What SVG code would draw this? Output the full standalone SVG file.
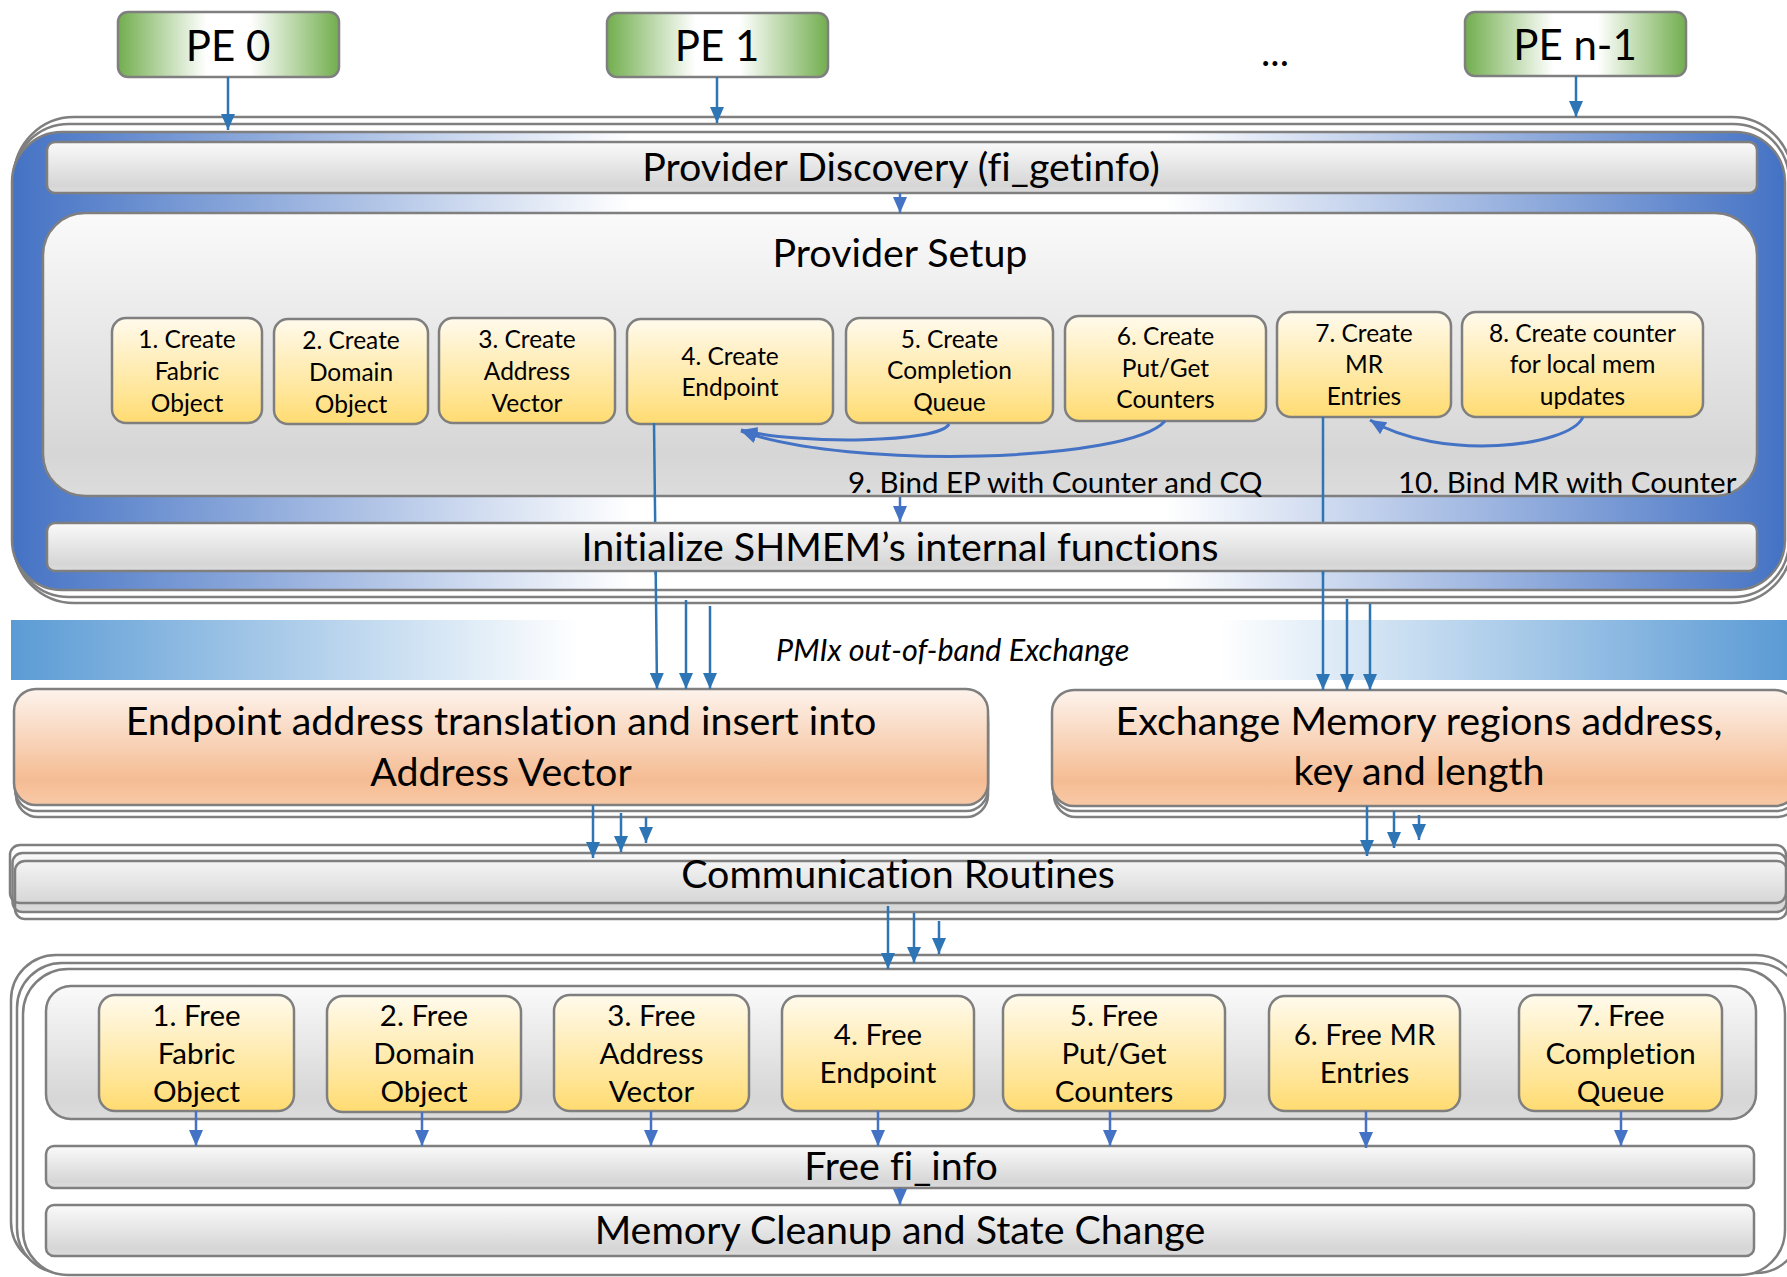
<svg xmlns="http://www.w3.org/2000/svg" width="1787" height="1277" viewBox="0 0 1787 1277">
  <defs>
    <linearGradient id="gPE" x1="0" y1="0" x2="1" y2="0">
      <stop offset="0" stop-color="#72AE4E"/>
      <stop offset="0.4" stop-color="#FFFFFF"/>
      <stop offset="0.6" stop-color="#FFFFFF"/>
      <stop offset="1" stop-color="#72AE4E"/>
    </linearGradient>
    <linearGradient id="gBlue" x1="0" y1="0" x2="1" y2="0">
      <stop offset="0" stop-color="#4472C4"/>
      <stop offset="0.35" stop-color="#FFFFFF"/>
      <stop offset="0.65" stop-color="#FFFFFF"/>
      <stop offset="1" stop-color="#4472C4"/>
    </linearGradient>
    <linearGradient id="gBand" x1="0" y1="0" x2="1" y2="0">
      <stop offset="0" stop-color="#5B9BD5"/>
      <stop offset="0.32" stop-color="#FFFFFF"/>
      <stop offset="0.68" stop-color="#FFFFFF"/>
      <stop offset="1" stop-color="#5B9BD5"/>
    </linearGradient>
    <linearGradient id="gGray" x1="0" y1="0" x2="0" y2="1">
      <stop offset="0" stop-color="#FAFAFA"/>
      <stop offset="0.85" stop-color="#D6D6D6"/>
      <stop offset="1" stop-color="#DCDCDC"/>
    </linearGradient>
    <linearGradient id="gYellow" x1="0" y1="0" x2="0" y2="1">
      <stop offset="0" stop-color="#FFFAEC"/>
      <stop offset="0.72" stop-color="#FFE596"/>
      <stop offset="1" stop-color="#FFDB70"/>
    </linearGradient>
    <linearGradient id="gOrange" x1="0" y1="0" x2="0" y2="1">
      <stop offset="0" stop-color="#FDF3EC"/>
      <stop offset="0.78" stop-color="#F5BC93"/>
      <stop offset="1" stop-color="#F8C9A7"/>
    </linearGradient>
    <marker id="ah" viewBox="0 0 16 14" refX="16" refY="7" markerWidth="16" markerHeight="14" markerUnits="userSpaceOnUse" orient="auto">
      <path d="M0,0 L16,7 L0,14 z" fill="#2E75B6"/>
    </marker>
    <marker id="ah2" viewBox="0 0 16 14" refX="16" refY="7" markerWidth="16" markerHeight="14" markerUnits="userSpaceOnUse" orient="auto">
      <path d="M0,0 L16,7 L0,14 z" fill="#4472C4"/>
    </marker>
  </defs>
  <style>
    text { font-family: Lato, "Open Sans", sans-serif; fill: #000; text-anchor: middle; font-variant-ligatures: none; font-feature-settings: "liga" 0; }
    .ol { fill: #FFFFFF; stroke: #7F7F7F; stroke-width: 2.5; }
    .olf { fill: none; stroke: #7F7F7F; stroke-width: 2.5; }
    .bar { fill: url(#gGray); stroke: #7F7F7F; stroke-width: 2.5; }
    .box { fill: url(#gYellow); stroke: #7F7F7F; stroke-width: 2.5; }
    .pe { fill: url(#gPE); stroke: #7F7F7F; stroke-width: 2.5; }
    .org { fill: url(#gOrange); stroke: #7F7F7F; stroke-width: 2.5; }
    .big { font-size: 39.4px; }
    .pet { font-size: 42px; }
    .sm { font-size: 24.5px; }
    .fr { font-size: 29.5px; }
    .lbl { font-size: 29.5px; text-anchor: start; }
    .ln { fill: none; stroke: #2E75B6; stroke-width: 2.5; marker-end: url(#ah); }
    .lnp { fill: none; stroke: #2E75B6; stroke-width: 2.5; }
    .ln2 { fill: none; stroke: #4472C4; stroke-width: 2.5; marker-end: url(#ah2); }
    .cv { fill: none; stroke: #4472C4; stroke-width: 3; marker-end: url(#ah2); }
  </style>

  <!-- processing elements -->
  <g id="pe0">
    <rect class="pe" x="118" y="12" width="221" height="65" rx="10"/>
    <text class="pet" x="228" y="61">PE 0</text>
  </g>
  <g id="pe1">
    <rect class="pe" x="607" y="13" width="221" height="64" rx="10"/>
    <text class="pet" x="717" y="61">PE 1</text>
  </g>
  <text class="big" x="1275" y="66">...</text>
  <g id="pen1">
    <rect class="pe" x="1465" y="12" width="221" height="64" rx="10"/>
    <text class="pet" x="1575" y="60">PE n-1</text>
  </g>

  <!-- initialization block: stacked frame with blue body -->
  <g id="init-block">
    <rect class="ol" x="14" y="117" width="1778" height="486" rx="60"/>
    <rect class="ol" x="13" y="124" width="1776" height="473" rx="56"/>
    <rect x="12" y="132" width="1773" height="458" rx="50" fill="url(#gBlue)" stroke="#7F7F7F" stroke-width="2.5"/>
  </g>

  <g id="provider-discovery">
    <rect class="bar" x="47" y="142" width="1710" height="51" rx="8"/>
    <text class="big" x="901" y="181">Provider Discovery (fi_getinfo)</text>
  </g>

  <g id="provider-setup">
    <rect class="bar" x="43" y="213" width="1714" height="283" rx="42"/>
    <text class="big" x="900" y="267">Provider Setup</text>
  </g>

  <g id="c1">
    <rect class="box" x="112" y="318" width="150" height="105" rx="14"/>
    <text class="sm" x="187" y="348">1. Create</text>
    <text class="sm" x="187" y="380">Fabric</text>
    <text class="sm" x="187" y="412">Object</text>
  </g>
  <g id="c2">
    <rect class="box" x="274" y="319" width="154" height="105" rx="14"/>
    <text class="sm" x="351" y="349">2. Create</text>
    <text class="sm" x="351" y="381">Domain</text>
    <text class="sm" x="351" y="413">Object</text>
  </g>
  <g id="c3">
    <rect class="box" x="439" y="318" width="176" height="105" rx="14"/>
    <text class="sm" x="527" y="348">3. Create</text>
    <text class="sm" x="527" y="380">Address</text>
    <text class="sm" x="527" y="412">Vector</text>
  </g>
  <g id="c4">
    <rect class="box" x="627" y="319" width="206" height="105" rx="14"/>
    <text class="sm" x="730" y="365">4. Create</text>
    <text class="sm" x="730" y="396">Endpoint</text>
  </g>
  <g id="c5">
    <rect class="box" x="846" y="318" width="207" height="105" rx="14"/>
    <text class="sm" x="949.5" y="348">5. Create</text>
    <text class="sm" x="949.5" y="379">Completion</text>
    <text class="sm" x="949.5" y="411">Queue</text>
  </g>
  <g id="c6">
    <rect class="box" x="1065" y="316" width="201" height="105" rx="14"/>
    <text class="sm" x="1165.5" y="345">6. Create</text>
    <text class="sm" x="1165.5" y="377">Put/Get</text>
    <text class="sm" x="1165.5" y="408">Counters</text>
  </g>
  <g id="c7">
    <rect class="box" x="1277" y="312" width="174" height="105" rx="14"/>
    <text class="sm" x="1364" y="342">7. Create</text>
    <text class="sm" x="1364" y="373">MR</text>
    <text class="sm" x="1364" y="405">Entries</text>
  </g>
  <g id="c8">
    <rect class="box" x="1462" y="312" width="241" height="105" rx="14"/>
    <text class="sm" x="1582.5" y="342">8. Create counter</text>
    <text class="sm" x="1582.5" y="373">for local mem</text>
    <text class="sm" x="1582.5" y="405">updates</text>
  </g>

  <text class="lbl" x="848" y="493">9. Bind EP with Counter and CQ</text>
  <text class="lbl" x="1398" y="493">10. Bind MR with Counter</text>

  <!-- upper part of the exchange feeds, passing behind the initialize bar -->
  <g id="feeds-under">
    <path class="lnp" d="M654 423 L655.8 575"/>
    <path class="lnp" d="M1323 417 L1323 575"/>
  </g>

  <g id="shmem-init">
    <rect class="bar" x="47" y="523" width="1710" height="48" rx="8"/>
    <text class="big" x="900" y="561">Initialize SHMEM’s internal functions</text>
  </g>

  <!-- out-of-band exchange band -->
  <g id="pmix">
    <rect x="11" y="620" width="1776" height="60" fill="url(#gBand)"/>
    <text x="776" y="661" style="font-size:30.5px;font-style:italic;text-anchor:start">PMIx out-of-band Exchange</text>
  </g>

  <g id="ep-translate">
    <rect class="ol" x="16" y="701" width="972" height="116" rx="22"/>
    <rect class="ol" x="15" y="695" width="973" height="116" rx="22"/>
    <rect class="org" x="14" y="689" width="974" height="116" rx="22"/>
    <text class="big" x="501" y="735">Endpoint address translation and insert into</text>
    <text class="big" x="501" y="786">Address Vector</text>
  </g>

  <g id="mr-exchange">
    <rect class="ol" x="1054" y="701" width="745" height="116" rx="22"/>
    <rect class="ol" x="1053" y="695" width="745" height="116" rx="22"/>
    <rect class="org" x="1052" y="690" width="745" height="116" rx="22"/>
    <text class="big" x="1419" y="735">Exchange Memory regions address,</text>
    <text class="big" x="1419" y="785">key and length</text>
  </g>

  <g id="comm">
    <rect x="12.5" y="853" width="1774" height="59" rx="10" fill="url(#gGray)"/>
    <rect class="olf" x="10" y="845" width="1776" height="58" rx="10"/>
    <rect class="olf" x="12.5" y="853" width="1774" height="59" rx="10"/>
    <rect class="olf" x="15" y="861" width="1772" height="58" rx="10"/>
    <text class="big" x="898" y="888">Communication Routines</text>
  </g>

  <!-- finalization block -->
  <g id="fin-block">
    <rect class="ol" x="11" y="955" width="1790" height="312" rx="45"/>
    <rect class="ol" x="17" y="963" width="1784" height="310" rx="45"/>
    <rect class="ol" x="23" y="969" width="1762" height="306" rx="45"/>
    <rect class="bar" x="46" y="986" width="1710" height="133" rx="25"/>
  </g>

  <g id="f1">
    <rect class="box" x="99" y="995" width="195" height="116" rx="16"/>
    <text class="fr" x="196.5" y="1026">1. Free</text>
    <text class="fr" x="196.5" y="1064">Fabric</text>
    <text class="fr" x="196.5" y="1102">Object</text>
  </g>
  <g id="f2">
    <rect class="box" x="327" y="996" width="194" height="116" rx="16"/>
    <text class="fr" x="424" y="1026">2. Free</text>
    <text class="fr" x="424" y="1064">Domain</text>
    <text class="fr" x="424" y="1102">Object</text>
  </g>
  <g id="f3">
    <rect class="box" x="554" y="995" width="195" height="116" rx="16"/>
    <text class="fr" x="651.5" y="1026">3. Free</text>
    <text class="fr" x="651.5" y="1064">Address</text>
    <text class="fr" x="651.5" y="1102">Vector</text>
  </g>
  <g id="f4">
    <rect class="box" x="782" y="996" width="192" height="115" rx="16"/>
    <text class="fr" x="878" y="1045">4. Free</text>
    <text class="fr" x="878" y="1083">Endpoint</text>
  </g>
  <g id="f5">
    <rect class="box" x="1003" y="995" width="222" height="116" rx="16"/>
    <text class="fr" x="1114" y="1026">5. Free</text>
    <text class="fr" x="1114" y="1064">Put/Get</text>
    <text class="fr" x="1114" y="1102">Counters</text>
  </g>
  <g id="f6">
    <rect class="box" x="1269" y="996" width="191" height="115" rx="16"/>
    <text class="fr" x="1364.5" y="1045">6. Free MR</text>
    <text class="fr" x="1364.5" y="1083">Entries</text>
  </g>
  <g id="f7">
    <rect class="box" x="1519" y="995" width="203" height="116" rx="16"/>
    <text class="fr" x="1620.5" y="1026">7. Free</text>
    <text class="fr" x="1620.5" y="1064">Completion</text>
    <text class="fr" x="1620.5" y="1102">Queue</text>
  </g>

  <g id="free-fi-info">
    <rect class="bar" x="46" y="1146" width="1708" height="42" rx="8"/>
    <text class="big" x="901" y="1180">Free fi_info</text>
  </g>
  <g id="cleanup">
    <rect class="bar" x="46" y="1205" width="1708" height="51" rx="8"/>
    <text class="big" x="900" y="1244">Memory Cleanup and State Change</text>
  </g>

  <!-- connectors -->
  <g id="connectors">
    <path class="ln" d="M228 77 L228 130"/>
    <path class="ln" d="M717 77 L717 123"/>
    <path class="ln" d="M1576 76 L1576 117"/>
    <path class="ln2" d="M900 193 L900 213"/>
    <path class="ln2" d="M900 497 L900 522"/>

    <path class="cv" d="M949 424 C940 443, 800 445, 741 430"/>
    <path class="cv" d="M1165 421 C1130 462, 850 470, 741 431"/>
    <path class="cv" d="M1583 417 C1570 447, 1440 462, 1370 420"/>

    <path class="ln" d="M655.7 571 L657 689"/>
    <path class="ln" d="M686 600 L686 689"/>
    <path class="ln" d="M710 606 L710 689"/>
    <path class="ln" d="M1323 571 L1323 690"/>
    <path class="ln" d="M1347 599 L1347 690"/>
    <path class="ln" d="M1370 604 L1370 690"/>

    <path class="ln" d="M593 805 L593 858"/>
    <path class="ln" d="M621 813 L621 852"/>
    <path class="ln" d="M646 817 L646 843"/>
    <path class="ln" d="M1367 806 L1367 856"/>
    <path class="ln" d="M1394 811 L1394 848"/>
    <path class="ln" d="M1419 815 L1419 840"/>

    <path class="ln" d="M888 906 L888 969"/>
    <path class="ln" d="M914 913 L914 963"/>
    <path class="ln" d="M939 921 L939 954"/>

    <path class="ln2" d="M196 1111 L196 1146"/>
    <path class="ln2" d="M422 1112 L422 1146"/>
    <path class="ln2" d="M651 1111 L651 1146"/>
    <path class="ln2" d="M878 1111 L878 1146"/>
    <path class="ln2" d="M1110 1111 L1110 1146"/>
    <path class="ln2" d="M1366 1111 L1366 1148"/>
    <path class="ln2" d="M1621 1111 L1621 1146"/>
    <path class="ln2" d="M900 1188 L900 1205"/>
  </g>
</svg>
